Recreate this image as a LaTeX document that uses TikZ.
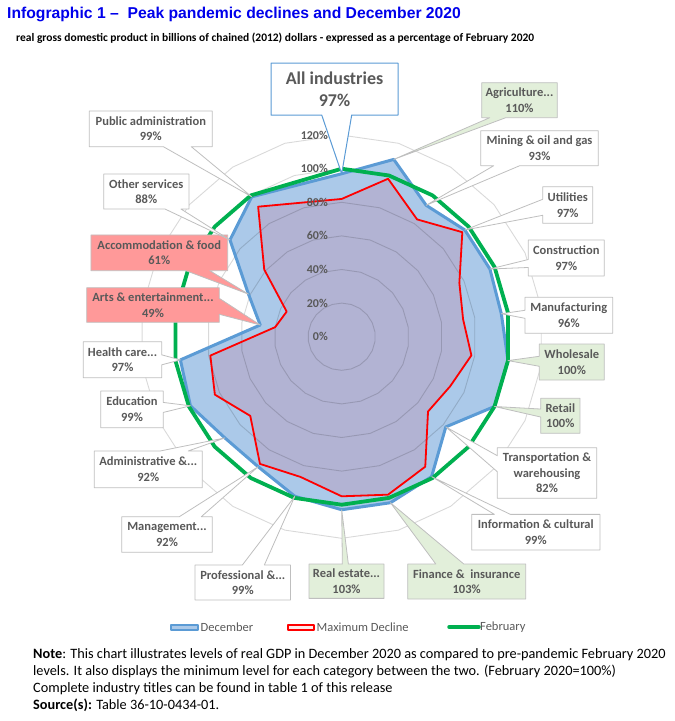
\documentclass[tikz,border=0pt]{standalone}
\usepackage{fontspec}
\setmainfont{Carlito}
\newfontfamily\titlefont{Liberation Sans}
\usepackage{tikz}
\usetikzlibrary{shapes.callouts,positioning}

\definecolor{decblue}{RGB}{91,155,213}
\definecolor{decfill}{RGB}{171,201,233}
\definecolor{maxred}{RGB}{255,0,0}
\definecolor{maxfill}{RGB}{178,179,211}
\definecolor{febgreen}{RGB}{0,176,80}
\definecolor{labgray}{RGB}{89,89,89}
\definecolor{boxgray}{RGB}{191,191,191}
\definecolor{boxpink}{RGB}{255,153,153}
\definecolor{boxgreen}{RGB}{226,239,218}
\definecolor{titleblue}{RGB}{0,0,235}

\begin{document}
\begin{tikzpicture}[line cap=round,line join=round,x=1pt,y=1pt,
    callbox/.style={rectangle callout,draw=boxgray,line width=0.8pt,fill=white,text=labgray,
        font=\bfseries\fontsize{12.5}{15.5}\selectfont,align=center,inner sep=0pt,
        callout pointer width=16pt},
    pinkbox/.style={callbox,fill=boxpink},
    greenbox/.style={callbox,fill=boxgreen},
    axislab/.style={text=labgray,font=\bfseries\fontsize{12}{14}\selectfont,anchor=east,inner sep=0pt},
    legtext/.style={text=labgray,font=\fontsize{12.5}{14}\selectfont,inner sep=0pt}]
    \useasboundingbox (0,0) rectangle (675,-721);
    \coordinate (c) at (341.7,-336.7);
    % data points, 22 spokes (the last one is empty)
    \begin{scope}[shift={(c)}]
        \foreach \v [count=\i from 0] in {97,110,93,97,97,96,100,100,82,99,103,103,99,92,92,99,97,49,61,88,99}
            \coordinate (d\i) at ({90-\i*360/22}:{1.68*\v});
        \foreach \v [count=\i from 0] in {82,98,83,95,77,73,78,71,68,92,98,95,87,90,72,83,79,40,36,61,92}
            \coordinate (m\i) at ({90-\i*360/22}:{1.68*\v});
        \foreach \i in {0,...,20}
            \coordinate (f\i) at ({90-\i*360/22}:168);
    \end{scope}
    \fill [decfill] (d0) \foreach \i in {1,...,20} {-- (d\i)} -- cycle;
    \fill [maxfill] (m0) \foreach \i in {1,...,20} {-- (m\i)} -- cycle;
    % rings
    \begin{scope}[shift={(c)}]
        \foreach \r in {1,...,6}
            \draw [black,draw opacity=0.15,line width=0.9pt] (90:{33.6*\r}) \foreach \k in {1,...,21} {-- ({90-\k*360/22}:{33.6*\r})} -- cycle;
    \end{scope}
    \draw [decblue,line width=3pt] (d0) \foreach \i in {1,...,20} {-- (d\i)} -- cycle;
    \draw [maxred,line width=1.8pt] (m0) \foreach \i in {1,...,20} {-- (m\i)} -- cycle;
    \draw [febgreen,line width=3.8pt] (f0) \foreach \i in {1,...,20} {-- (f\i)} -- cycle;
    % axis labels
    \foreach \p in {0,20,...,120}
        \node [axislab] (ax\p) at (328,{-336.7+1.68*\p}) {\p\%};
    % callouts
    \node [callbox,draw=decblue,line width=1pt,font=\bfseries\fontsize{18}{22}\selectfont,callout pointer width=30pt,
        callout absolute pointer={(d0)},minimum width=127pt,minimum height=52pt] (allind) at (334.5,-89) {All industries\\97\%};
    \node [greenbox,callout absolute pointer={(d1)},minimum width=75.6pt,minimum height=35pt] (agri) at (519.5,-100.2) {Agriculture...\\110\%};
    \node [callbox,callout absolute pointer={(d2)},minimum width=117.6pt,minimum height=35pt,callout pointer width=26pt] (mining) at (539.5,-148.2) {Mining \& oil and gas\\93\%};
    \node [callbox,callout absolute pointer={(d3)},minimum width=50pt,minimum height=36.6pt] (util) at (567.7,-205) {Utilities\\97\%};
    \node [callbox,callout absolute pointer={(d4)},minimum width=76pt,minimum height=36pt,callout pointer width=8pt] (constr) at (566.3,-258) {Construction\\97\%};
    \node [callbox,callout absolute pointer={(d5)},minimum width=87.7pt,minimum height=36pt,callout pointer width=8pt] (manuf) at (568.8,-315.3) {Manufacturing\\96\%};
    \node [greenbox,callout absolute pointer={(d6)},minimum width=65pt,minimum height=36pt,callout pointer width=10pt] (whole) at (571.8,-362) {Wholesale\\100\%};
    \node [greenbox,callout absolute pointer={(d7)},minimum width=39.3pt,minimum height=35pt,callout pointer width=8pt] (retail) at (560.3,-415.8) {Retail\\100\%};
    \node [callbox,callout absolute pointer={(d8)},minimum width=99.4pt,minimum height=50.6pt] (transp) at (547,-473) {Transportation \&\\warehousing\\82\%};
    \node [callbox,callout absolute pointer={(d9)},minimum width=128.3pt,minimum height=35.7pt] (info) at (535.8,-532.2) {Information \& cultural\\99\%};
    \node [greenbox,callout absolute pointer={(d10)},minimum width=118pt,minimum height=35pt,callout pointer width=28pt] (finance) at (466.7,-581.5) {Finance \&~ insurance\\103\%};
    \node [greenbox,callout absolute pointer={(d11)},minimum width=75pt,minimum height=34.3pt,callout pointer width=6pt] (realest) at (346.5,-581.2) {Real estate...\\103\%};
    \node [callbox,callout absolute pointer={(d12)},minimum width=95.5pt,minimum height=35pt,callout pointer width=22pt] (prof) at (242.8,-582.5) {Professional \&...\\99\%};
    \node [callbox,callout absolute pointer={(d13)},minimum width=90.6pt,minimum height=35.6pt,callout pointer width=22pt] (manag) at (167,-534.5) {Management...\\92\%};
    \node [callbox,callout absolute pointer={(d14)},minimum width=108pt,minimum height=36.7pt,callout pointer width=28pt] (admin) at (148.3,-469.3) {Administrative \&...\\92\%};
    \node [callbox,callout absolute pointer={(d15)},minimum width=62.6pt,minimum height=36.7pt,callout pointer width=10pt] (educ) at (132,-409.3) {Education\\99\%};
    \node [callbox,callout absolute pointer={(d16)},minimum width=78.4pt,minimum height=36pt,callout pointer width=10pt] (health) at (122.5,-359.7) {Health care...\\97\%};
    \node [pinkbox,callout absolute pointer={(d17)},minimum width=132.6pt,minimum height=34.6pt] (arts) at (153,-305) {Arts \& entertainment...\\49\%};
    \node [pinkbox,callout absolute pointer={(d18)},minimum width=136.7pt,minimum height=35.7pt,callout pointer width=24pt] (accom) at (159.3,-252.8) {Accommodation \& food\\61\%};
    \node [callbox,callout absolute pointer={(d19)},minimum width=85.3pt,minimum height=35pt] (other) at (146.3,-191.5) {Other services\\88\%};
    \node [callbox,callout absolute pointer={(d20)},minimum width=123pt,minimum height=35.7pt,callout pointer width=28pt] (pubadm) at (150.8,-128.8) {Public administration\\99\%};
    % title
    \node [anchor=base west,inner sep=0pt,text=titleblue,font=\titlefont\bfseries\fontsize{15.7}{18}\selectfont] (title) at (7,-18.5) {Infographic 1 –\ \ Peak pandemic declines and December 2020};
    \node [anchor=base west,inner sep=0pt,font=\bfseries\fontsize{11.5}{13}\selectfont] (subtitle) at (16,-41) {real gross domestic product in billions of chained (2012) dollars - expressed as a percentage of February 2020};
    % legend
    \node [draw=decblue,line width=2pt,fill=decfill,minimum width=27pt,minimum height=5pt,inner sep=0pt] (legdec) at (184.5,-627) {};
    \node [legtext,right=1.5pt of legdec] (legdectxt) {December};
    \node [draw=maxred,line width=2pt,fill=red!8,minimum width=26pt,minimum height=5pt,inner sep=0pt] (legmax) at (301,-627) {};
    \node [legtext,right=1.5pt of legmax] (legmaxtxt) {Maximum Decline};
    \coordinate (legfeba) at (449,-627);
    \coordinate (legfebb) at (479,-627);
    \draw [febgreen,line width=3.5pt] (legfeba) -- (legfebb);
    \node [legtext,anchor=west] (legfebtxt) at (480,-627) {February};
    % note
    \node [anchor=north west,inner sep=0pt,align=left,font=\fontsize{14.3}{17.2}\selectfont] (note) at (33,-648) {\textbf{Note}: This chart illustrates levels of real GDP in December 2020 as compared to pre-pandemic February 2020\\levels. It also displays the minimum level for each category between the two. (February 2020=100\%)\\Complete industry titles can be found in table 1 of this release\\\textbf{Source(s):} Table 36-10-0434-01.};
\end{tikzpicture}
\end{document}
